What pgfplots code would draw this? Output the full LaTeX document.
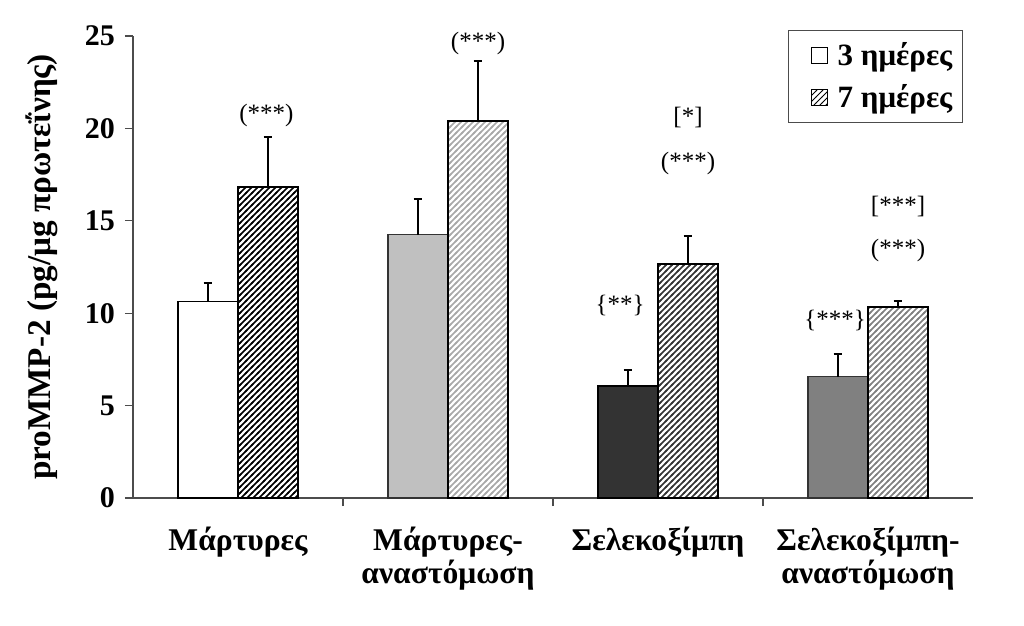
\documentclass[border=0pt]{standalone}
\usepackage{pgfplots}
\pgfplotsset{compat=1.18}
\usepackage{fontspec}
\setmainfont{Liberation Serif}
\usetikzlibrary{patterns}
\pgfdeclarepatternformonly{hatch}{\pgfqpoint{-1pt}{-1pt}}{\pgfqpoint{4pt}{4pt}}{\pgfqpoint{3pt}{3pt}}{\pgfsetlinewidth{0.8pt}\pgfpathmoveto{\pgfqpoint{-0.5pt}{-0.5pt}}\pgfpathlineto{\pgfqpoint{3.5pt}{3.5pt}}\pgfusepath{stroke}}
\definecolor{g2}{HTML}{C0C0C0}
\definecolor{g2h}{HTML}{A8A8A8}
\definecolor{g3}{HTML}{333333}
\definecolor{g4}{HTML}{808080}
\pgfplotsset{errb/.style={error bars/.cd, y dir=plus, y explicit,
  error bar style={line width=1pt, black},
  error mark options={rotate=90, mark size=2.2pt, line width=1pt, black}}}
\begin{document}
\begin{tikzpicture}
\begin{axis}[name=ax, scale only axis, width=420pt, height=231pt,
  xmin=-0.5, xmax=3.5, ymin=0, ymax=25, clip=false,
  axis lines=left, axis line style={-, line width=0.6pt, black!70},
  tick align=outside, major tick length=4pt,
  tick style={line width=0.6pt, black!70},
  ytick={0,5,...,25},
  xtick={0.5,1.5,2.5}, xticklabels={},
  extra x ticks={0,1,2,3},
  extra x tick labels={{Μάρτυρες},{Μάρτυρες-\\αναστόμωση},{Σελεκοξίμπη},{Σελεκοξίμπη-\\αναστόμωση}},
  extra x tick style={major tick length=0pt, tick style={draw=none},
    xticklabel style={align=center, anchor=north, yshift=-11pt, font=\fontsize{15.8}{16.5}\selectfont\bfseries}},
  /pgf/number format/assume math mode=true,
  yticklabel style={font=\fontsize{15}{17}\selectfont\bfseries, xshift=-1.5pt},
  ylabel={proMMP-2 (pg/μg πρωτεΐνης)},
  every axis y label/.style={at={(rel axis cs:0,0.5)}, xshift=-45.5pt, rotate=90, anchor=center, font=\fontsize{16.6}{19}\selectfont\bfseries},
  legend style={at={(rel axis cs:0.988,1.013)}, anchor=north east, draw=black!70, line width=0.6pt,
    font=\fontsize{15.5}{18}\selectfont\bfseries, row sep=4pt, inner xsep=3pt, inner ysep=4pt},
  legend cell align=left,
]
\addlegendimage{legend image code/.code={\path (0pt,0pt) (19pt,0pt); \draw[fill=white,draw=black,line width=0.5pt] (8pt,-4pt) rectangle (16pt,4pt);}}
\addlegendentry{3 ημέρες}
\addlegendimage{legend image code/.code={\path (0pt,0pt) (19pt,0pt); \draw[fill=white,draw=black,line width=0.5pt,postaction={pattern=north east lines}] (8pt,-4pt) rectangle (16pt,4pt);}}
\addlegendentry{7 ημέρες}

% day 3
\addplot[forget plot, ybar, bar width=30pt, bar shift=0pt, fill=white, draw=black, line width=0.7pt, errb]
  coordinates {(-0.14286,10.62) +- (0,1.03)};
\addplot[forget plot, ybar, bar width=30pt, bar shift=0pt, fill=g2, draw=black!80, line width=0.7pt, errb]
  coordinates {(0.85714,14.25) +- (0,1.93)};
\addplot[forget plot, ybar, bar width=30pt, bar shift=0pt, fill=g3, draw=black, line width=0.7pt, errb]
  coordinates {(1.85714,6.06) +- (0,0.87)};
\addplot[forget plot, ybar, bar width=30pt, bar shift=0pt, fill=g4, draw=black!80, line width=0.7pt, errb]
  coordinates {(2.85714,6.56) +- (0,1.21)};
% day 7
\addplot[forget plot, ybar, bar width=30pt, bar shift=0pt, fill=white, draw=black, line width=1pt,
  postaction={pattern=hatch, pattern color=black}, errb]
  coordinates {(0.14286,16.85) +- (0,2.70)};
\addplot[forget plot, ybar, bar width=30pt, bar shift=0pt, fill=white, draw=black, line width=1pt,
  postaction={pattern=hatch, pattern color=g2h}, errb]
  coordinates {(1.14286,20.42) +- (0,3.24)};
\addplot[forget plot, ybar, bar width=30pt, bar shift=0pt, fill=white, draw=black, line width=1pt,
  postaction={pattern=hatch, pattern color=g3}, errb]
  coordinates {(2.14286,12.68) +- (0,1.51)};
\addplot[forget plot, ybar, bar width=30pt, bar shift=0pt, fill=white, draw=black, line width=1pt,
  postaction={pattern=hatch, pattern color=g4}, errb]
  coordinates {(3.14286,10.35) +- (0,0.33)};

\begin{scope}[every node/.style={font=\fontsize{12.5}{14}\selectfont}]
\node at (axis cs:0.135,20.72) {(***)};
\node at (axis cs:1.143,24.57) {(***)};
\node at (axis cs:2.143,20.6) {[*]};
\node at (axis cs:2.143,18.1) {(***)};
\node at (axis cs:1.82,10.44) {\{**\}};
\node at (axis cs:3.143,15.75) {[***]};
\node at (axis cs:3.143,13.42) {(***)};
\node at (axis cs:2.843,9.63) {\{***\}};
\end{scope}
\end{axis}
\pgfresetboundingbox
\path ([xshift=-66.5pt,yshift=-63.5pt]ax.south west) rectangle ([xshift=25.5pt,yshift=18pt]ax.north east);
\end{tikzpicture}
\end{document}
